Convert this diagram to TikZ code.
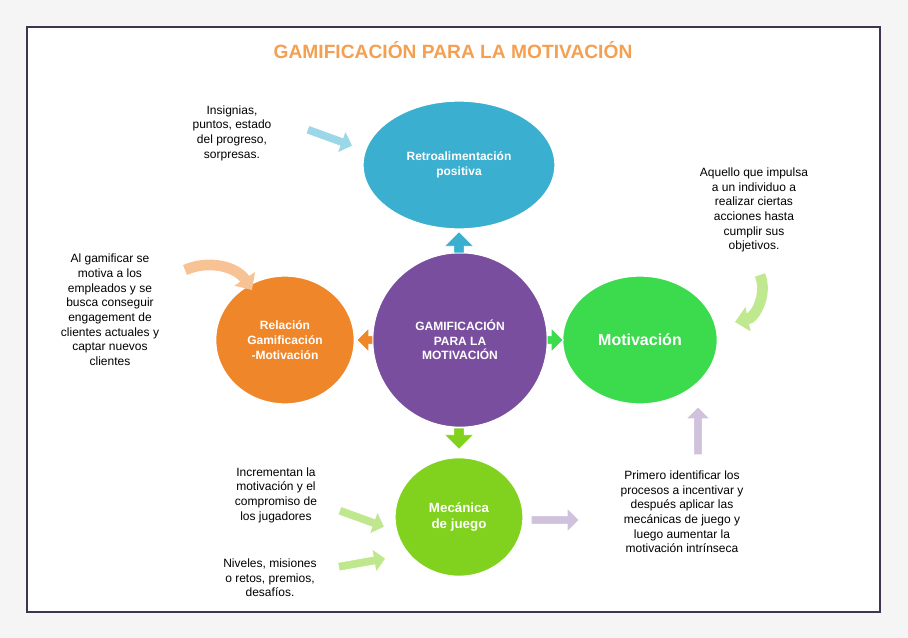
\documentclass[tikz,border=0pt]{standalone}
\usepackage{fontspec}
\setmainfont{Liberation Sans}
\usetikzlibrary{shapes.arrows,shapes.geometric,arrows.meta}
\definecolor{frame}{HTML}{3F3550}
\definecolor{cpur}{HTML}{7A4E9E}
\definecolor{ccy}{HTML}{3AAFD0}
\definecolor{cor}{HTML}{F0862A}
\definecolor{cgr}{HTML}{3CDB4E}
\definecolor{clg}{HTML}{80D21E}
\definecolor{ttl}{HTML}{F4A050}
\begin{document}
\begin{tikzpicture}[x=0.75pt,y=-0.75pt,
  circ/.style={ellipse,draw=white,line width=2pt,text=white,font=\bfseries\small,align=center,inner sep=0pt},
  txt/.style={align=center,font=\small,text=black,inner sep=1pt},
  sarr/.style={single arrow,minimum height=#1,minimum width=18pt,single arrow head extend=4pt,inner sep=2pt,draw=white,line width=0.6pt},
  carr/.style={line width=8pt,-{Triangle[length=10pt,width=18pt]}}]
\fill[gray!8] (0,0) rectangle (908,638);
\draw[frame,line width=2pt,fill=white] (27,27) rectangle (880,612);
\node (title) at (453,50) {\textcolor{ttl}{\bfseries\Large GAMIFICACIÓN PARA LA MOTIVACIÓN}};
\node[circ,fill=cpur,minimum width=132pt,minimum height=132pt] (c) at (460,340) {GAMIFICACIÓN\\PARA LA\\MOTIVACIÓN};
\node[circ,fill=ccy,minimum width=145pt,minimum height=97pt] (t) at (459,165) {Retroalimentación\\positiva};
\node[circ,fill=cor,minimum width=105pt,minimum height=97pt] (l) at (285,340) {Relación\\Gamificación\\-Motivación};
\node[circ,fill=cgr,minimum width=117pt,minimum height=97pt,font=\bfseries\large] (r) at (640,340) {Motivación};
\node[circ,fill=clg,minimum width=97pt,minimum height=90pt,font=\bfseries\normalsize] (b) at (459,517) {Mecánica\\de juego};
\node[sarr=16pt,fill=ccy,rotate=90,minimum width=22pt] (au) at (459,245) {};
\node[sarr=12pt,fill=cor,rotate=180,minimum width=18pt] (al) at (367,340) {};
\node[sarr=12pt,fill=cgr,minimum width=18pt] (ar) at (553,340) {};
\node[sarr=16pt,fill=clg,rotate=-90,minimum width=22pt] (ad) at (459,436) {};
\node[txt] (t1) at (232,133) {Insignias,\\puntos, estado\\del progreso,\\sorpresas.};
\node[sarr=36pt,fill=ccy!50,rotate=-20] (a1) at (328,137) {};
\node[txt] (t2) at (754,210) {Aquello que impulsa\\a un individuo a\\realizar ciertas\\acciones hasta\\cumplir sus\\objetivos.};
\draw[carr,clg!50] (760,275) to[bend left=50] (735,322);
\node[txt] (t3) at (110,310) {Al gamificar se\\motiva a los\\empleados y se\\busca conseguir\\engagement de\\clientes actuales y\\captar nuevos\\clientes};
\draw[carr,cor!50] (185,270) to[bend left=40] (252,290);
\node[txt] (t4) at (276,495) {Incrementan la\\motivación y el\\compromiso de\\los jugadores};
\node[sarr=36pt,fill=clg!50,rotate=-20] (a4) at (360,518) {};
\node[txt] (t5) at (270,578) {Niveles, misiones\\o retos, premios,\\desafíos.};
\node[sarr=36pt,fill=clg!50,rotate=10] (a5) at (360,563) {};
\node[txt] (t6) at (682,512) {Primero identificar los\\procesos a incentivar y\\después aplicar las\\mecánicas de juego y\\luego aumentar la\\motivación intrínseca};
\node[sarr=36pt,fill=cpur!35] (a6) at (553,520) {};
\node[sarr=36pt,fill=cpur!35,rotate=90] (a7) at (698,433) {};
\end{tikzpicture}
\end{document}
